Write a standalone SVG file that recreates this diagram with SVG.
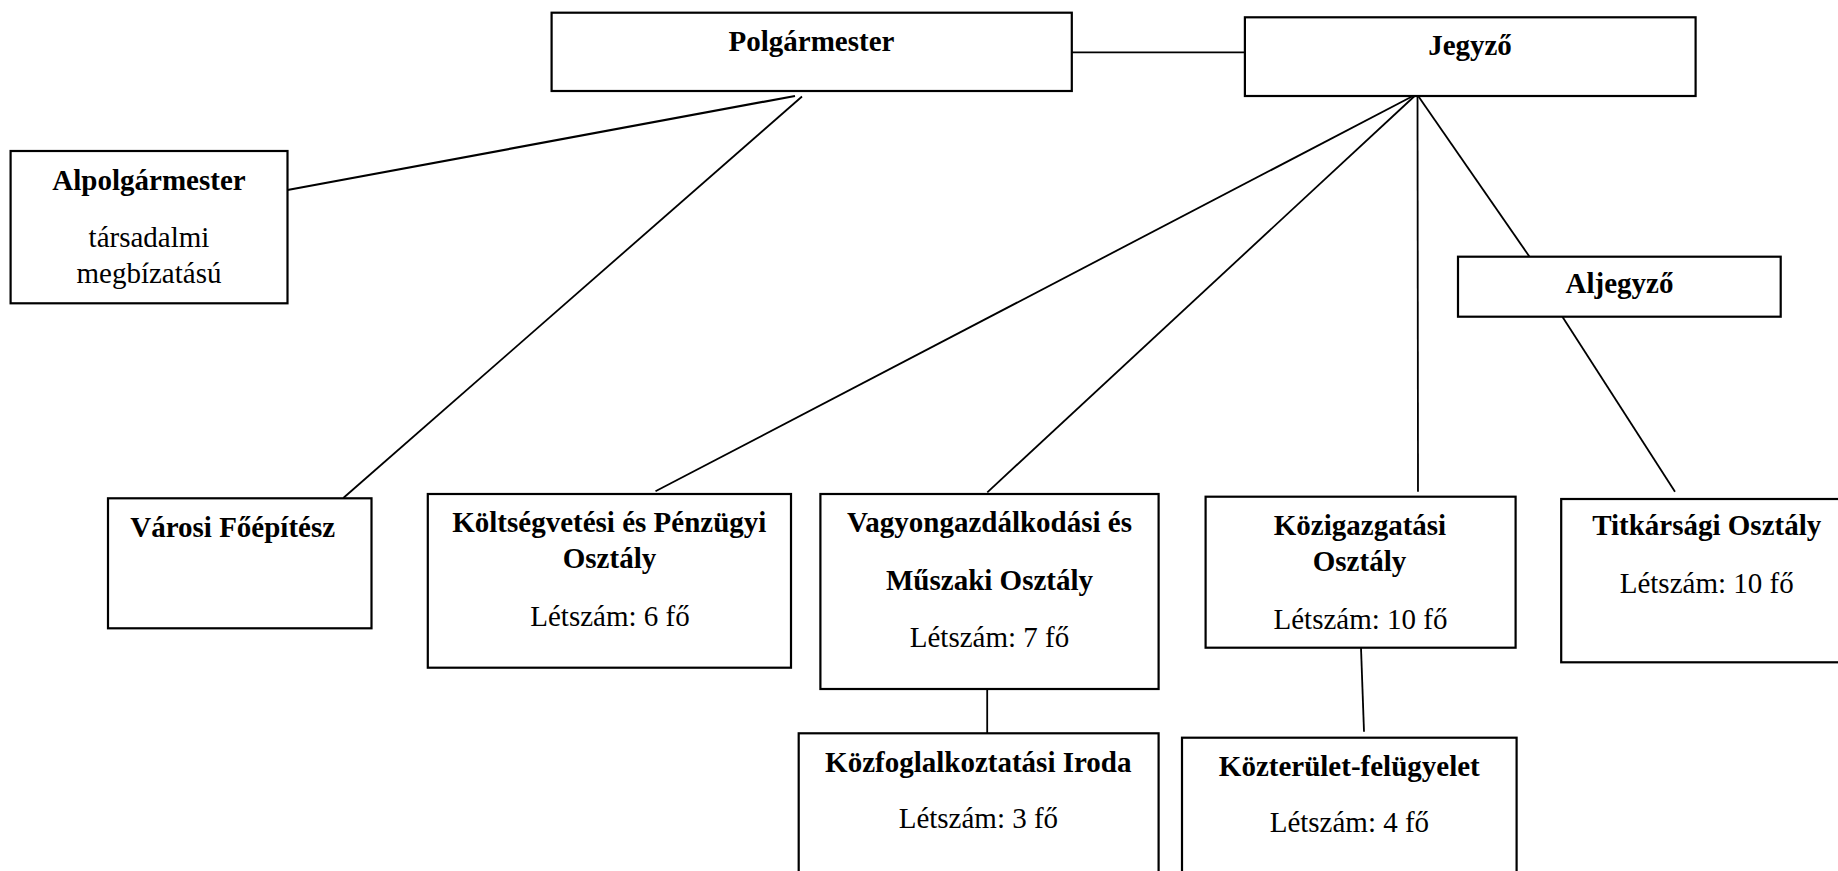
<svg xmlns="http://www.w3.org/2000/svg" width="1838" height="871" viewBox="0 0 1838 871">
<style>
.box{fill:#fff;stroke:#000;stroke-width:2.2}
.ln{stroke:#000;stroke-width:1.8;fill:none}
.b{font-family:"Liberation Serif","Times New Roman",Times,serif;font-weight:bold;font-size:29px;fill:#000;text-anchor:middle}
.r{font-family:"Liberation Serif","Times New Roman",Times,serif;font-size:29px;fill:#000;text-anchor:middle}
</style>
<rect width="1838" height="871" fill="#fff"/>
<g id="connectors">
<line class="ln" x1="1071.8" y1="52.3" x2="1244.9" y2="52.3"/>
<line class="ln" x1="287.5" y1="190" x2="795" y2="96" style="stroke-width:2.2"/>
<line class="ln" x1="802" y1="96.5" x2="343.3" y2="498"/>
<line class="ln" x1="1416.8" y1="94" x2="655.5" y2="491.3"/>
<line class="ln" x1="1416.8" y1="94" x2="987.3" y2="492.3"/>
<line class="ln" x1="1417.5" y1="94" x2="1418" y2="491.7"/>
<line class="ln" x1="1416.8" y1="94" x2="1529.5" y2="256.7"/>
<line class="ln" x1="1562.4" y1="316.7" x2="1675" y2="491.7"/>
<line class="ln" x1="987.2" y1="689" x2="987.2" y2="733.3"/>
<line class="ln" x1="1361" y1="647.7" x2="1364" y2="731.7"/>
</g>
<g id="polgarmester">
<rect class="box" x="551.6" y="12.7" width="520.2" height="78.3"/>
<text class="b" x="811.5" y="51">Polgármester</text>
</g>
<g id="jegyzo">
<rect class="box" x="1244.9" y="17.3" width="450.7" height="78.7"/>
<text class="b" x="1470" y="55">Jegyző</text>
</g>
<g id="alpolgarmester">
<rect class="box" x="10.6" y="151" width="276.9" height="152.3"/>
<text class="b" x="149" y="190">Alpolgármester</text>
<text class="r" x="149" y="246.7">társadalmi</text>
<text class="r" x="149" y="283.3">megbízatású</text>
</g>
<g id="aljegyzo">
<rect class="box" x="1458" y="256.7" width="322.7" height="60"/>
<text class="b" x="1619.5" y="293.3">Aljegyző</text>
</g>
<g id="varosi-foepitesz">
<rect class="box" x="108" y="498.3" width="263.5" height="130"/>
<text class="b" x="232.7" y="536.7">Városi Főépítész</text>
</g>
<g id="koltsegvetesi">
<rect class="box" x="427.8" y="494" width="363.2" height="173.7"/>
<text class="b" x="609.3" y="532.3">Költségvetési és Pénzügyi</text>
<text class="b" x="609.5" y="568">Osztály</text>
<text class="r" x="610" y="626">Létszám: 6 fő</text>
</g>
<g id="vagyongazdalkodasi">
<rect class="box" x="820.4" y="494" width="338.2" height="195"/>
<text class="b" x="989.5" y="532.3">Vagyongazdálkodási és</text>
<text class="b" x="989.5" y="590">Műszaki Osztály</text>
<text class="r" x="989.5" y="646.7">Létszám: 7 fő</text>
</g>
<g id="kozfoglalkoztatasi">
<rect class="box" x="798.7" y="733.3" width="359.9" height="150"/>
<text class="b" x="978.3" y="771.7">Közfoglalkoztatási Iroda</text>
<text class="r" x="978.4" y="828.3">Létszám: 3 fő</text>
</g>
<g id="kozigazgatasi">
<rect class="box" x="1205.6" y="496.7" width="310" height="151"/>
<text class="b" x="1360" y="534.5">Közigazgatási</text>
<text class="b" x="1359.5" y="571">Osztály</text>
<text class="r" x="1360.5" y="628.5">Létszám: 10 fő</text>
</g>
<g id="kozterulet-felugyelet">
<rect class="box" x="1182" y="737.7" width="334.6" height="150"/>
<text class="b" x="1349.3" y="776">Közterület-felügyelet</text>
<text class="r" x="1349.4" y="831.7">Létszám: 4 fő</text>
</g>
<g id="titkarsagi">
<rect class="box" x="1561.2" y="499" width="290" height="163.3"/>
<text class="b" x="1706.7" y="535">Titkársági Osztály</text>
<text class="r" x="1706.7" y="593.3">Létszám: 10 fő</text>
</g>
</svg>
